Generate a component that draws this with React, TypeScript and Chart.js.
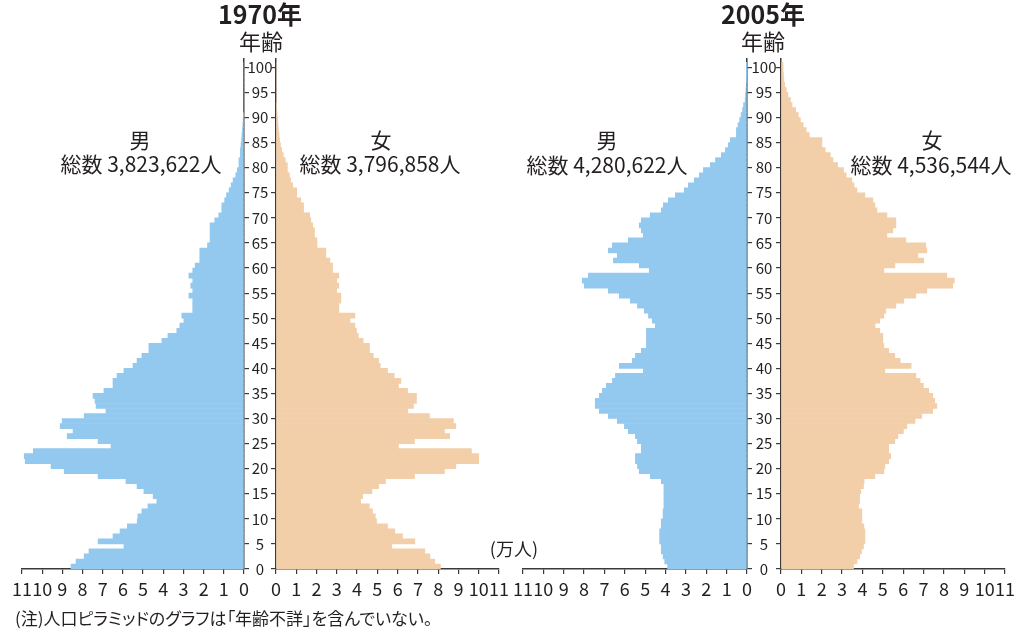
import React, { useEffect, useRef } from 'react';
import { Chart, registerables } from 'chart.js';

Chart.register(...registerables);

// ---------- data (万人, index = age 0..100) ----------
const AGES: number[] = Array.from({ length: 101 }, (_, i) => i);
const AGE_TICKS = [0, 5, 10, 15, 20, 25, 30, 35, 40, 45, 50, 55, 60, 65, 70, 75, 80, 85, 90, 95, 100];
const X_TICKS = [0, 1, 2, 3, 4, 5, 6, 7, 8, 9, 10, 11];

const MALE_1970 = [
  8.57, 8.32, 7.92, 7.68, 5.95, 7.23, 6.49, 6.14, 5.78, 5.29,
  5.26, 5.06, 4.76, 4.32, 4.5, 4.96, 5.3, 5.85, 7.23, 8.91,
  9.56, 10.84, 10.89, 10.44, 6.59, 7.23, 8.76, 8.47, 9.11, 9.01,
  7.92, 6.84, 7.33, 7.38, 7.48, 6.94, 6.49, 6.49, 6.29, 5.95,
  5.5, 5.3, 5.06, 4.71, 4.71, 4.07, 3.77, 3.33, 3.18, 2.98,
  3.08, 2.54, 2.54, 2.54, 2.73, 2.54, 2.64, 2.54, 2.73, 2.54,
  2.42, 2.19, 2.19, 2.19, 1.81, 1.68, 1.68, 1.68, 1.68, 1.45,
  1.25, 1.1, 1.1, 0.96, 0.87, 0.74, 0.64, 0.54, 0.41, 0.33,
  0.25, 0.25, 0.18, 0.18, 0.15, 0.12, 0.1, 0.08, 0.06, 0.04,
  0.02, 0, 0, 0, 0, 0, 0, 0, 0, 0,
  0,
];

const FEMALE_1970 = [
  8.11, 7.83, 7.59, 7.34, 5.71, 6.85, 6.24, 5.86, 5.5, 4.96,
  4.9, 4.76, 4.6, 4.17, 4.27, 4.73, 5.06, 5.4, 6.83, 8.31,
  8.87, 10.0, 10.0, 9.64, 6.04, 6.83, 8.57, 8.31, 8.87, 8.75,
  7.57, 6.5, 6.78, 6.93, 6.93, 6.49, 6.04, 6.16, 5.83, 5.5,
  5.14, 5.06, 4.8, 4.61, 4.61, 4.3, 4.06, 3.97, 3.89, 3.65,
  3.89, 3.1, 3.1, 3.2, 3.2, 2.99, 3.1, 2.99, 3.1, 2.79,
  2.79, 2.66, 2.46, 2.46, 2.02, 2.02, 1.9, 1.9, 1.81, 1.72,
  1.66, 1.36, 1.36, 1.22, 1.02, 1.02, 0.82, 0.72, 0.66, 0.56,
  0.56, 0.46, 0.36, 0.28, 0.22, 0.18, 0.15, 0.12, 0.1, 0.08,
  0.06, 0.04, 0.02, 0, 0, 0, 0, 0, 0, 0,
  0,
];

const MALE_2005 = [
  3.9, 4.04, 4.12, 4.21, 4.21, 4.29, 4.29, 4.29, 4.21, 4.21,
  4.12, 4.12, 4.08, 4.08, 4.08, 4.08, 4.08, 4.21, 4.75, 5.29,
  5.38, 5.48, 5.48, 5.19, 5.19, 5.38, 5.48, 5.83, 6.02, 6.37,
  6.81, 7.25, 7.45, 7.45, 7.25, 7.1, 6.91, 6.61, 6.46, 5.09,
  6.27, 5.63, 5.48, 5.19, 4.94, 4.94, 4.94, 4.94, 4.5, 4.65,
  4.84, 5.04, 5.38, 5.73, 6.27, 6.81, 7.99, 8.09, 7.79, 4.8,
  5.29, 6.56, 6.37, 6.81, 6.61, 5.83, 5.09, 5.19, 5.29, 5.19,
  4.75, 4.21, 4.11, 3.86, 3.52, 3.08, 2.88, 2.59, 2.34, 2.14,
  1.8, 1.55, 1.26, 1.06, 0.92, 0.82, 0.52, 0.52, 0.44, 0.36,
  0.29, 0.22, 0.17, 0.09, 0.07, 0.05, 0.03, 0.02, 0.01, 0.01,
  0.01,
];

const FEMALE_2005 = [
  3.56, 3.73, 3.86, 3.95, 4.05, 4.12, 4.12, 4.12, 4.07, 3.97,
  3.97, 3.97, 3.81, 3.86, 3.86, 3.92, 4.05, 4.08, 4.61, 5.05,
  5.1, 5.29, 5.39, 5.29, 5.29, 5.59, 5.74, 6.01, 6.18, 6.58,
  6.91, 7.45, 7.65, 7.55, 7.45, 7.25, 6.99, 6.83, 6.62, 5.1,
  6.39, 5.85, 5.59, 5.29, 5.05, 5.0, 5.0, 4.85, 4.62, 4.85,
  5.05, 5.15, 5.64, 6.03, 6.62, 7.16, 8.43, 8.51, 8.14, 5.05,
  5.59, 7.01, 6.72, 7.16, 7.11, 6.13, 5.2, 5.49, 5.64, 5.64,
  5.2, 4.71, 4.61, 4.51, 4.12, 3.73, 3.59, 3.48, 3.2, 3.07,
  2.78, 2.55, 2.42, 2.17, 2.01, 2.01, 1.39, 1.24, 1.09, 0.95,
  0.85, 0.72, 0.54, 0.46, 0.34, 0.26, 0.18, 0.14, 0.12, 0.1,
  0.1,
];

// ---------- styling ----------
const FONT = '"Noto Sans CJK JP", "Noto Sans", sans-serif';
const TEXT = '#231f20';
const AXIS = '#3a3a3a';
const BLUE = '#93c9ee';
const PEACH = '#f2cea9';
const CANVAS_H = 610;
const X_FONT = 18;
const AGE_FONT = 15;

function measure(text: string, font: string): number {
  const c = document.createElement('canvas').getContext('2d');
  if (!c) return 0;
  c.font = font;
  return c.measureText(text).width;
}

type Geom = { left: number; width: number; padLeft: number; padRight: number; gap: number };

function makeConfig(values: number[], side: 'male' | 'female', color: string, g: Geom): any {
  const isMale = side === 'male';
  const data = values.map((v, i) => ({ x: v, y: AGES[i] + 0.5 }));
  const widest = measure('100', `${AGE_FONT}px ${FONT}`);
  const agePad = g.gap / 2 - 5 - widest / 2;
  return {
    type: 'bar',
    data: {
      datasets: [
        {
          data,
          backgroundColor: color,
          borderWidth: 0,
          barPercentage: 1,
          categoryPercentage: 1,
        },
      ],
    },
    options: {
      indexAxis: 'y',
      animation: false,
      responsive: false,
      maintainAspectRatio: false,
      events: [],
      layout: { padding: { left: g.padLeft, right: g.padRight, top: 59, bottom: 10 } },
      plugins: { legend: { display: false }, tooltip: { enabled: false }, title: { display: false } },
      scales: {
        x: {
          type: 'linear',
          min: 0,
          max: 11,
          reverse: isMale,
          position: 'bottom',
          offset: false,
          afterBuildTicks: (s: any) => {
            s.ticks = X_TICKS.map((v) => ({ value: v }));
          },
          afterFit: (s: any) => {
            s.height = 31;
          },
          grid: { drawOnChartArea: false, drawTicks: true, tickLength: 5, color: AXIS, lineWidth: 1.2, offset: false },
          border: { display: true, color: AXIS, width: 1.5 },
          ticks: {
            autoSkip: false,
            maxRotation: 0,
            minRotation: 0,
            padding: 4,
            color: TEXT,
            font: { family: FONT, size: X_FONT },
            callback: (v: any) => String(v),
          },
        },
        y: {
          type: 'linear',
          min: 0,
          max: 101.67,
          position: isMale ? 'right' : 'left',
          offset: false,
          afterBuildTicks: (s: any) => {
            s.ticks = AGE_TICKS.map((v) => ({ value: v }));
          },
          afterFit: (s: any) => {
            s.width = isMale ? g.gap : 5;
          },
          grid: { drawOnChartArea: false, drawTicks: true, tickLength: 5, color: AXIS, lineWidth: 1.2, offset: false },
          border: { display: true, color: AXIS, width: 1.5 },
          ticks: isMale
            ? {
                display: true,
                autoSkip: false,
                crossAlign: 'center',
                padding: agePad,
                color: TEXT,
                font: { family: FONT, size: AGE_FONT },
                callback: (v: any) => String(v),
              }
            : { display: false },
        },
      },
    },
  };
}

function HalfPyramid(props: { values: number[]; side: 'male' | 'female'; color: string; geom: Geom }) {
  const ref = useRef<HTMLCanvasElement>(null);
  const { values, side, color, geom } = props;
  useEffect(() => {
    if (!ref.current) return;
    const chart = new Chart(ref.current, makeConfig(values, side, color, geom));
    return () => chart.destroy();
  }, []);
  return (
    <canvas
      ref={ref}
      width={geom.width}
      height={CANVAS_H}
      style={{ position: 'absolute', left: geom.left, top: 0, width: geom.width, height: CANVAS_H }}
    />
  );
}

function Label(props: { text: string; x: number; y: number; size: number; bold?: boolean; anchor?: 'center' | 'left' | 'right'; palt?: boolean }) {
  const { text, x, y, size, bold, anchor = 'center', palt } = props;
  const tx = anchor === 'center' ? '-50%' : anchor === 'right' ? '-100%' : '0';
  return (
    <div
      style={{
        position: 'absolute',
        left: x,
        top: y - 0.056 * size,
        transform: `translate(${tx}, -50%)`,
        fontSize: size,
        fontWeight: bold ? 700 : 400,
        lineHeight: 1,
        whiteSpace: 'nowrap',
        fontFeatureSettings: palt ? '"palt"' : 'normal',
      }}
    >
      {text}
    </div>
  );
}

const G_M70: Geom = { left: 0, width: 276, padLeft: 22, padRight: 0, gap: 32 };
const G_F70: Geom = { left: 256, width: 265, padLeft: 15, padRight: 22, gap: 32 };
const G_M05: Geom = { left: 500, width: 281, padLeft: 23, padRight: 0, gap: 34 };
const G_F05: Geom = { left: 761, width: 266, padLeft: 15, padRight: 22, gap: 34 };

export default function App() {
  return (
    <div
      style={{
        position: 'absolute',
        left: 0,
        top: 0,
        width: 1033,
        height: 636,
        background: '#ffffff',
        fontFamily: FONT,
        color: TEXT,
        overflow: 'hidden',
      }}
    >
      <HalfPyramid values={MALE_1970} side="male" color={BLUE} geom={G_M70} />
      <HalfPyramid values={FEMALE_1970} side="female" color={PEACH} geom={G_F70} />
      <HalfPyramid values={MALE_2005} side="male" color={BLUE} geom={G_M05} />
      <HalfPyramid values={FEMALE_2005} side="female" color={PEACH} geom={G_F05} />

      <Label text="1970年" x={260} y={14} size={25} bold />
      <Label text="年齢" x={261} y={41} size={22} />
      <Label text="男" x={140} y={140} size={21} />
      <Label text="総数 3,823,622人" x={141} y={164} size={21} />
      <Label text="女" x={381} y={140} size={21} />
      <Label text="総数 3,796,858人" x={380} y={164} size={21} />

      <Label text="2005年" x={763} y={14} size={25} bold />
      <Label text="年齢" x={763} y={41} size={22} />
      <Label text="男" x={607} y={140} size={21} />
      <Label text="総数 4,280,622人" x={607} y={165} size={21} />
      <Label text="女" x={932} y={140} size={21} />
      <Label text="総数 4,536,544人" x={931} y={165} size={21} />

      <Label text="(万人)" x={538} y={549} size={18} anchor="right" />
      <Label text="(注)人口ピラミッドのグラフは「年齢不詳」を含んでいない。" x={15} y={618} size={17} anchor="left" palt />
    </div>
  );
}
